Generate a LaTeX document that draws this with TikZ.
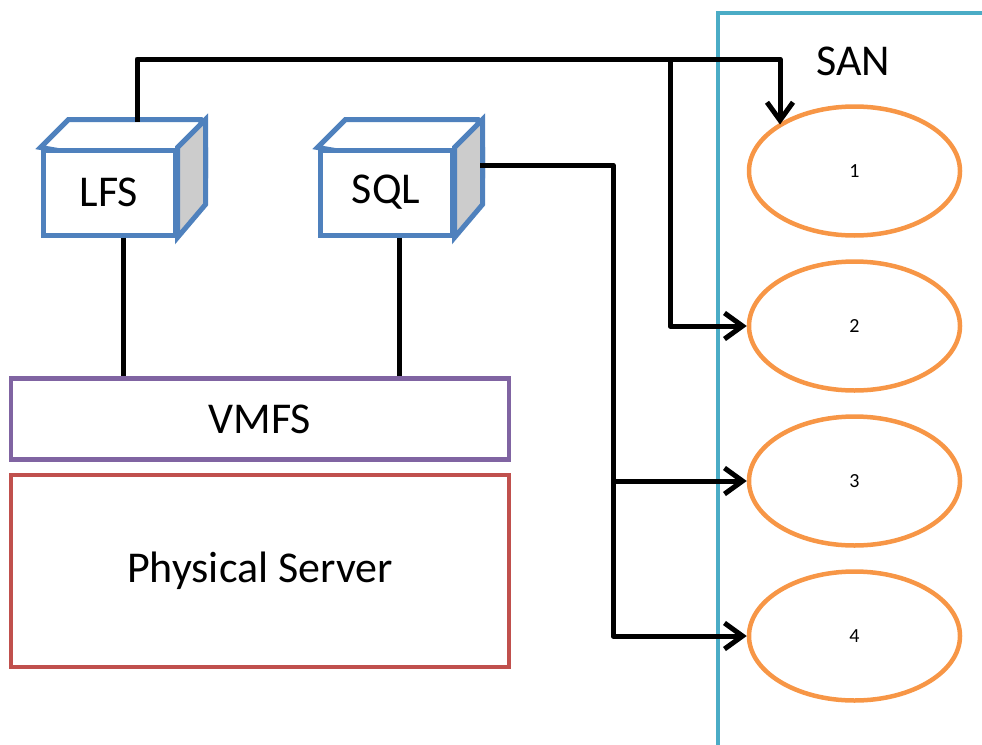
\documentclass[tikz,border=0pt]{standalone}
\usepackage{fontspec}
\setmainfont{Carlito}
\usetikzlibrary{arrows.meta,shapes.geometric}
\definecolor{cubeblue}{HTML}{4F81BD}
\definecolor{sideg}{HTML}{CCCCCC}
\definecolor{sanc}{HTML}{4BACC6}
\definecolor{ellc}{HTML}{F79646}
\definecolor{vmfsc}{HTML}{8064A2}
\definecolor{physc}{HTML}{C0504D}
\tikzset{
  front/.style={draw=cubeblue, line width=5pt, fill=white, minimum width=132pt, minimum height=85pt, inner sep=0pt, font=\fontsize{44}{44}\selectfont},
  cubeface/.style={draw=cubeblue, line width=5pt, line join=miter},
  disk/.style={ellipse, draw=ellc, line width=4.5pt, minimum width=211pt, minimum height=129pt, inner sep=0pt, font=\fontsize{20}{20}\selectfont},
  layer/.style={line width=4.5pt, minimum width=498pt, inner sep=0pt, font=\fontsize{44}{44}\selectfont},
  conn/.style={line width=5pt, black, line join=round},
  arr/.style={conn, -{Straight Barb[length=18pt,width=26pt,line width=5pt]}},
}
\begin{document}
\begin{tikzpicture}[x=1pt,y=-1pt]
\useasboundingbox (0,0) rectangle (982,744);
% SAN container
\draw[sanc, line width=4.5pt] (718,760) -- (718,13) -- (1000,13);
\node[font=\fontsize{44}{44}\selectfont] (san) at (853,61) {SAN};
% disks
\node[disk] (e1) at (854.5,171) {1};
\node[disk] (e2) at (854.5,326) {2};
\node[disk] (e3) at (854.5,481) {3};
\node[disk] (e4) at (854.5,636) {4};
% layers
\node[layer, draw=vmfsc, minimum height=81pt] (vmfs) at (260,419) {VMFS};
\node[layer, draw=physc, minimum height=192pt] (phys) at (260,571) {Physical Server};
% cubes
\foreach \n/\cx/\t in {lfs/109/LFS, sql/386/SQL}{
  \node[front] (\n) at (\cx,192.5) {\t};
  \draw[cubeface, fill=white] (\n.north west) -- ++(28,-28) -- ++(132,0) -- ([xshift=28pt]\n.north east) -- ++(0,28) -- cycle;
  \draw[cubeface, fill=sideg] (\n.north east) -- ++(28,-28) -- ++(0,85) -- (\n.south east) -- cycle;
  \node[front] at (\cx,192.5) {\t};
}
% connectors
\coordinate (lfstop) at (137,122);
\coordinate (topc) at (780,59);
\coordinate (br2) at (670,59);
\coordinate (sqlside) at (480,165);
\coordinate (sqlc) at (613,165);
\draw[conn] (lfs.south -| 123,0) -- (vmfs.north -| 123,0);
\draw[conn] (sql.south -| 399,0) -- (vmfs.north -| 399,0);
\draw[arr] (lfstop) |- (topc) -- (topc |- e1.149);
\draw[arr] (br2) |- (e2.west);
\draw[arr] (sqlside) -- (sqlc) |- (e4.west);
\draw[arr] (sqlc |- e3.west) -- (e3.west);
\end{tikzpicture}
\end{document}
